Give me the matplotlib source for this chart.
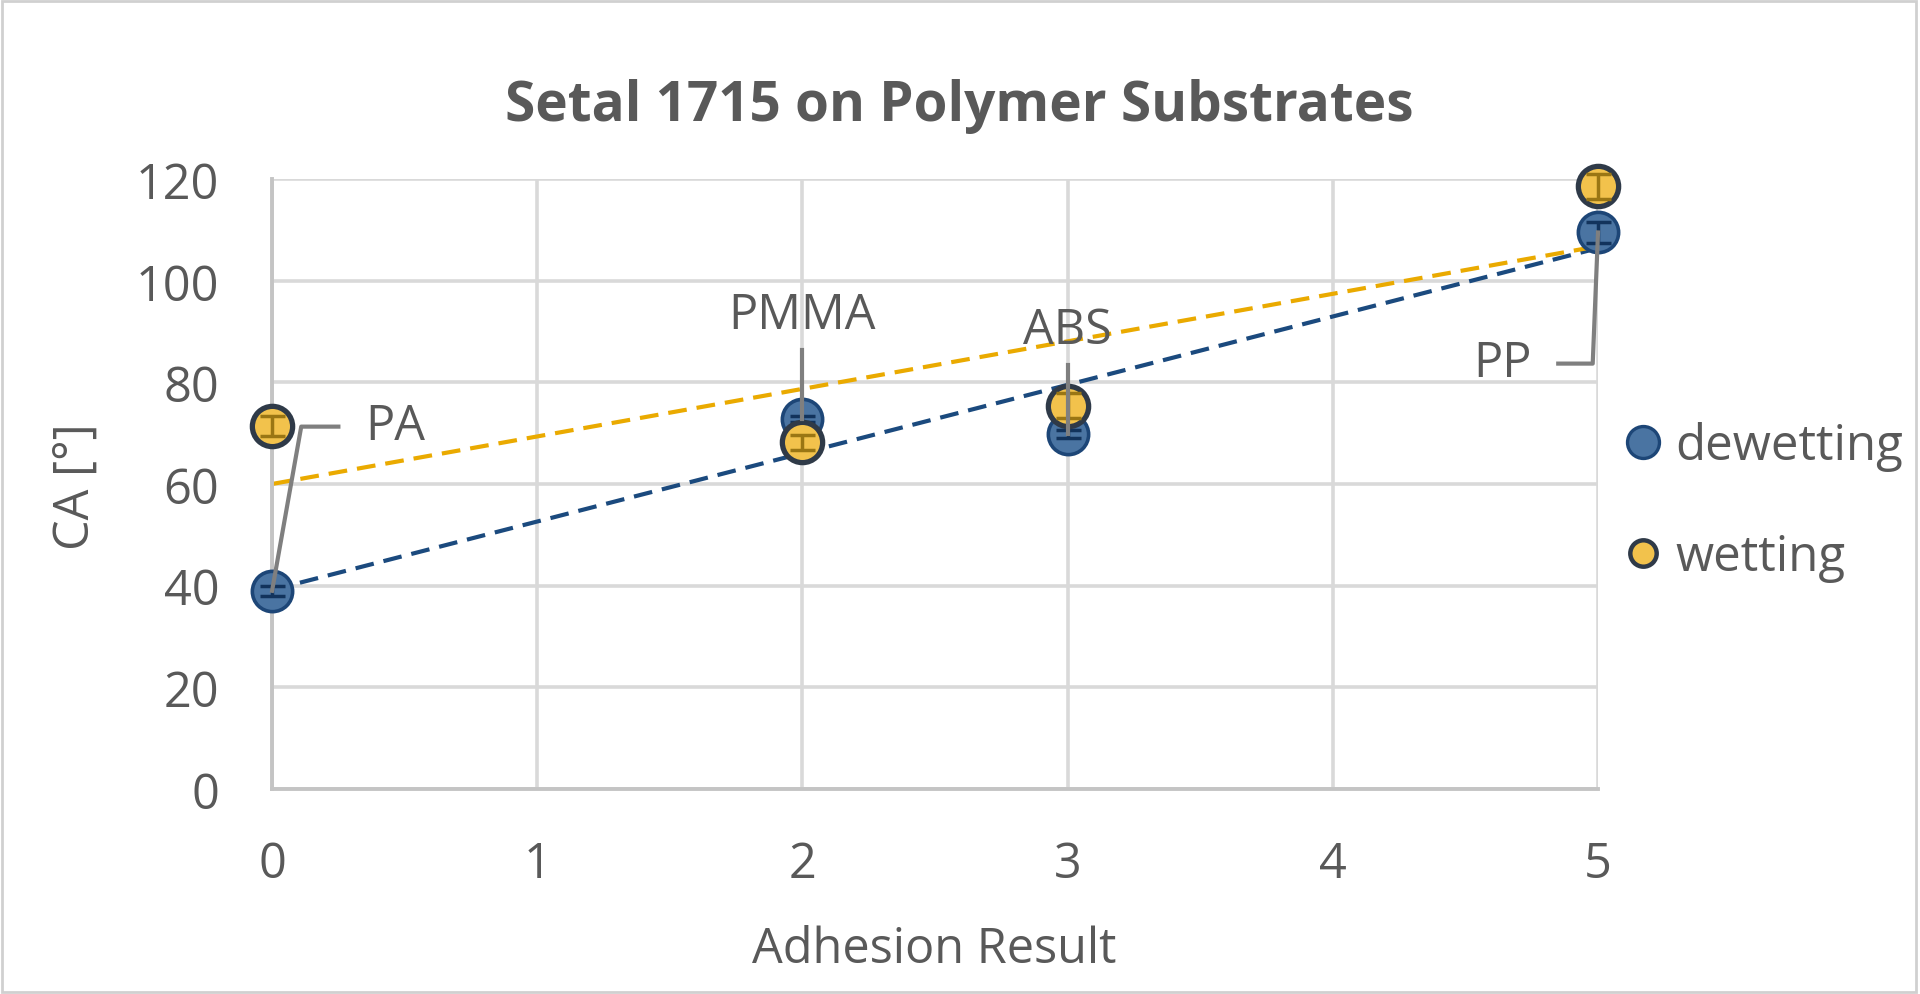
import numpy as np
import matplotlib
matplotlib.use("Agg")
import matplotlib.pyplot as plt
from matplotlib.lines import Line2D
from matplotlib.patches import Rectangle

# data
adhesion = [0, 2, 3, 5]
substrates = ["PA", "PMMA", "ABS", "PP"]
dewetting = [39.0, 72.8, 69.9, 109.5]
wetting = [71.4, 68.2, 75.4, 118.6]
dewetting_err = [1.0, 0.6, 0.8, 2.0]
wetting_err = [2.0, 1.5, 2.5, 2.5]

x_ticks = [0, 1, 2, 3, 4, 5]
y_ticks = [0, 20, 40, 60, 80, 100, 120]

text_col = "#595959"
grid_col = "#d9d9d9"
blue_face = "#4a74a2"
blue_edge = "#1d4677"
gold_face = "#f2c24c"
gold_edge = "#2f3a48"
blue_trend = "#1b4a7e"
gold_trend = "#eaaa00"
leader_col = "#7f7f7f"

plt.rcParams["font.family"] = ["Open Sans", "DejaVu Sans"]

fig = plt.figure(figsize=(19.2, 9.95), dpi=100)
ax = fig.add_axes([0.1417, 0.206, 0.6906, 0.613])

ax.set_xlim(0, 5)
ax.set_ylim(0, 120)
ax.set_xticks(x_ticks)
ax.set_yticks(y_ticks)
ax.tick_params(length=0, labelsize=35, colors=text_col)
ax.tick_params(axis="y", pad=38)
ax.tick_params(axis="x", pad=36)
ax.grid(True, color=grid_col, linewidth=2.6, zorder=0)
ax.set_axisbelow(True)
for side in ["top", "right"]:
    ax.spines[side].set_visible(False)
for side in ["left", "bottom"]:
    ax.spines[side].set_color("#c4c4c4")
    ax.spines[side].set_linewidth(2.8)

# linear trendlines
xs = np.array([0, 5])
for vals, col in [(dewetting, blue_trend), (wetting, gold_trend)]:
    k, b = np.polyfit(adhesion, vals, 1)
    ax.plot(xs, k * xs + b, color=col, linewidth=3.0,
            linestyle=(0, (4.5, 2.4)), zorder=2, clip_on=False)

# points, then error bars on top of them
ax.plot(adhesion, dewetting, "o", markersize=29, markerfacecolor=blue_face,
        markeredgecolor=blue_edge, markeredgewidth=2.6, zorder=3, clip_on=False)
ax.errorbar(adhesion, dewetting, yerr=dewetting_err, fmt="none",
            ecolor="#12335c", elinewidth=2.5, capsize=9, capthick=2.5,
            zorder=3.5, clip_on=False)
ax.plot(adhesion, wetting, "o", markersize=29, markerfacecolor=gold_face,
        markeredgecolor=gold_edge, markeredgewidth=3.8, zorder=4, clip_on=False)
ax.errorbar(adhesion, wetting, yerr=wetting_err, fmt="none",
            ecolor="#9a7614", elinewidth=2.5, capsize=9, capthick=2.5,
            zorder=4.5, clip_on=False)

# data labels with leader lines (attached to dewetting points)
label_kw = dict(fontsize=35, color=text_col, zorder=6)
line_kw = dict(color=leader_col, linewidth=3.0, zorder=5, clip_on=False)

i = 0
ax.plot([adhesion[i], adhesion[i] + 0.11, adhesion[i] + 0.25],
        [dewetting[i], dewetting[i] + 32.3, dewetting[i] + 32.3], **line_kw)
ax.text(adhesion[i] + 0.35, dewetting[i] + 32.3, substrates[i],
        ha="left", va="center", **label_kw)

for i in [1, 2]:
    ax.plot([adhesion[i], adhesion[i]],
            [dewetting[i], dewetting[i] + 13.5], **line_kw)
    ax.text(adhesion[i], dewetting[i] + 15.5, substrates[i],
            ha="center", va="bottom", **label_kw)

i = 3
ax.plot([adhesion[i], adhesion[i] - 0.02, adhesion[i] - 0.15],
        [dewetting[i], dewetting[i] - 25.8, dewetting[i] - 25.8], **line_kw)
ax.text(adhesion[i] - 0.25, dewetting[i] - 25.8, substrates[i],
        ha="right", va="center", **label_kw)

fig.text(0.4995, 0.893, "Setal 1715 on Polymer Substrates", ha="center",
         va="center", fontsize=39.5, fontweight="bold", color=text_col)
fig.text(0.0396, 0.511, "CA [°]", rotation=90, ha="center", va="center",
         fontsize=35, color=text_col)
fig.text(0.4866, 0.0452, "Adhesion Result", ha="center", va="center",
         fontsize=35, color=text_col)

handles = [
    Line2D([], [], linestyle="none", marker="o", markersize=23,
           markerfacecolor=blue_face, markeredgecolor=blue_edge,
           markeredgewidth=2.4, label="dewetting"),
    Line2D([], [], linestyle="none", marker="o", markersize=19,
           markerfacecolor=gold_face, markeredgecolor=gold_edge,
           markeredgewidth=3.2, label="wetting"),
]
leg = fig.legend(handles=handles, loc="center left",
                 bbox_to_anchor=(0.838, 0.495), frameon=False, fontsize=35.5,
                 handlelength=0.6, handletextpad=0.35, labelspacing=1.25,
                 borderaxespad=0)
for t in leg.get_texts():
    t.set_color(text_col)

fig.patches.append(Rectangle((0.001, 0.002), 0.997, 0.996,
                             transform=fig.transFigure, fill=False,
                             edgecolor="#d0d0d0", linewidth=2))

fig.savefig("out.png", dpi=100)
